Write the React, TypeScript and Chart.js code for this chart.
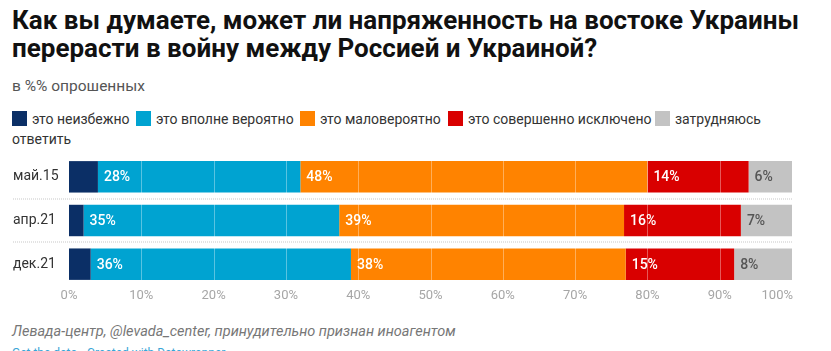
import React, { useEffect, useRef } from "react";
import { Chart, registerables } from "chart.js";

Chart.register(...registerables);

const categories = ["май.15", "апр.21", "дек.21"];
const seriesNames = [
  "это неизбежно",
  "это вполне вероятно",
  "это маловероятно",
  "это совершенно исключено",
  "затрудняюсь ответить",
];
const inevitable = [4, 2, 3];
const quiteLikely = [28, 35, 36];
const unlikely = [48, 39, 38];
const excluded = [14, 16, 15];
const hardToSay = [6, 7, 8];
const xTicks = [0, 10, 20, 30, 40, 50, 60, 70, 80, 90, 100];
const colors = ["#0b2f66", "#00a3d1", "#ff8300", "#d90000", "#c3c3c3"];
const labelColors = ["#ffffff", "#ffffff", "#ffffff", "#ffffff", "#555555"];

const rawSeries = [inevitable, quiteLikely, unlikely, excluded, hardToSay];
const totals = categories.map((_, i) => rawSeries.reduce((s, arr) => s + arr[i], 0));

const FONT = "Roboto, 'Noto Sans', sans-serif";

const overlayPlugin = {
  id: "overlay",
  afterDatasetsDraw(chart: any) {
    const { ctx, chartArea, scales } = chart;
    const x = scales.x;
    const y = scales.y;
    ctx.save();
    // gridlines drawn over the bars
    ctx.strokeStyle = "rgba(255,255,255,0.35)";
    ctx.lineWidth = 1;
    xTicks.forEach((t) => {
      if (t === 0 || t === 100) return;
      const px = Math.round(x.getPixelForValue(t)) + 0.5;
      ctx.beginPath();
      ctx.moveTo(px, chartArea.top);
      ctx.lineTo(px, chartArea.bottom);
      ctx.stroke();
    });
    // dotted row separators
    ctx.strokeStyle = "#e3e3e3";
    ctx.lineWidth = 2;
    ctx.setLineDash([1, 1]);
    for (let i = 0; i < categories.length - 1; i++) {
      const yy = Math.round((y.getPixelForValue(i) + y.getPixelForValue(i + 1)) / 2);
      ctx.beginPath();
      ctx.moveTo(13, yy);
      ctx.lineTo(x.getPixelForValue(100) + 1, yy);
      ctx.stroke();
    }
    ctx.setLineDash([]);
    // value labels
    ctx.font = `500 14px ${FONT}`;
    ctx.textBaseline = "middle";
    ctx.textAlign = "left";
    chart.data.datasets.forEach((ds: any, di: number) => {
      if (di === 0) return;
      const meta = chart.getDatasetMeta(di);
      meta.data.forEach((bar: any, i: number) => {
        const left = Math.min(bar.x, bar.base);
        ctx.fillStyle = labelColors[di];
        ctx.fillText(rawSeries[di][i] + "%", left + 6, bar.y + 1);
      });
    });
    // x tick labels
    ctx.font = `13px ${FONT}`;
    ctx.fillStyle = "#a6a6a6";
    xTicks.forEach((t, idx) => {
      const px = x.getPixelForValue(t);
      const last = idx === xTicks.length - 1;
      ctx.textAlign = last ? "right" : "center";
      ctx.fillText(t + "%", last ? px + 1 : px, chartArea.bottom + 10);
    });
    ctx.restore();
  },
};

function ChartCanvas() {
  const ref = useRef<HTMLCanvasElement>(null);
  useEffect(() => {
    if (!ref.current) return;
    Chart.defaults.font.family = FONT;
    const chart = new Chart(ref.current, {
      type: "bar",
      data: {
        labels: categories,
        datasets: rawSeries.map((arr, di) => ({
          label: seriesNames[di],
          data: arr.map((v, i) => (v / totals[i]) * 100),
          backgroundColor: colors[di],
          borderWidth: 0,
          barPercentage: 0.72,
          categoryPercentage: 1,
        })),
      },
      options: {
        indexAxis: "y",
        animation: false,
        responsive: false,
        maintainAspectRatio: false,
        events: [],
        layout: { padding: { left: 13, right: 39, top: 5, bottom: 24 } },
        plugins: { legend: { display: false }, tooltip: { enabled: false } },
        scales: {
          x: { stacked: true, min: 0, max: 100, display: false },
          y: {
            stacked: true,
            grid: { display: false },
            border: { display: false },
            afterFit: (axis: any) => {
              axis.width = 56;
              axis.paddingTop = 0;
              axis.paddingBottom = 0;
            },
            ticks: {
              crossAlign: "far",
              color: "#333333",
              font: { size: 14, family: FONT },
            },
          },
        },
      },
      plugins: [overlayPlugin],
    });
    return () => chart.destroy();
  }, []);
  return (
    <canvas
      ref={ref}
      width={831}
      height={160}
      style={{ position: "absolute", left: 0, top: 150, width: 831, height: 160 }}
    />
  );
}

const legendX = [12, 136, 300, 448, 655];

export default function App() {
  return (
    <div
      style={{
        position: "relative",
        width: 831,
        height: 351,
        overflow: "hidden",
        background: "#fff",
        fontFamily: FONT,
      }}
    >
      <style>{"body{margin:0;}"}</style>
      <div
        style={{
          position: "absolute",
          left: 12,
          top: 6,
          width: 830,
          fontSize: 26,
          lineHeight: "28px",
          fontWeight: 700,
          color: "#111",
          whiteSpace: "nowrap",
        }}
      >
        Как вы думаете, может ли напряженность на востоке Украины
        <br />
        перерасти в войну между Россией и Украиной?
      </div>
      <div
        style={{
          position: "absolute",
          left: 12,
          top: 76,
          fontSize: 15.5,
          lineHeight: "20px",
          color: "#555",
        }}
      >
        в %% опрошенных
      </div>
      {seriesNames.map((name, i) => {
        const last = i === seriesNames.length - 1;
        const parts = name.split(" ");
        return (
          <React.Fragment key={name}>
            <div
              style={{
                position: "absolute",
                left: legendX[i],
                top: 111,
                width: 15,
                height: 15,
                background: colors[i],
              }}
            />
            <div
              style={{
                position: "absolute",
                left: legendX[i] + 20,
                top: 108.5,
                fontSize: 14,
                lineHeight: "20px",
                color: "#333",
                whiteSpace: "nowrap",
              }}
            >
              {last ? parts[0] : name}
            </div>
            {last && (
              <div
                style={{
                  position: "absolute",
                  left: 12,
                  top: 128.5,
                  fontSize: 14,
                  lineHeight: "20px",
                  color: "#333",
                  whiteSpace: "nowrap",
                }}
              >
                {parts.slice(1).join(" ")}
              </div>
            )}
          </React.Fragment>
        );
      })}
      <ChartCanvas />
      <div
        style={{
          position: "absolute",
          left: 12,
          top: 322,
          fontSize: 14.5,
          lineHeight: "20px",
          fontStyle: "italic",
          color: "#777",
          whiteSpace: "nowrap",
        }}
      >
        Левада-центр, @levada_center, принудительно признан иноагентом
      </div>
      <div
        style={{
          position: "absolute",
          left: 12,
          top: 344.5,
          fontSize: 12,
          lineHeight: "16px",
          color: "#3aa6d6",
          whiteSpace: "nowrap",
        }}
      >
        Get the data • Created with Datawrapper
      </div>
    </div>
  );
}
